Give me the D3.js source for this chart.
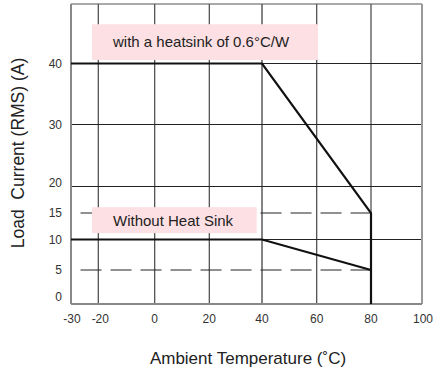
<!DOCTYPE html>
<html>
<head>
<meta charset="utf-8">
<script src="https://cdn.jsdelivr.net/npm/d3@7"></script>
<style>
  body { margin: 0; background: #fff; }
  text { font-family: "Liberation Sans", Arial, sans-serif; fill: #222; }
  .tick-label { font-size: 12px; fill: #333; }
</style>
</head>
<body>
<div id="chart"></div>
<script>
const width = 433;
const height = 370;

// axis ticks (the value axis is drawn piecewise, as in the original sheet)
const xTicks = [-30, -20, 0, 20, 40, 60, 80, 100];
const xGridValues = [-20, 0, 20, 40, 60, 80];
const yTicks = [0, 5, 10, 15, 20, 30, 40];
const yGridValues = [10, 20, 30, 40];
const dashedLevels = [5, 15];

// derating curves: [ambient °C, current A]
const heatsinkCurve = [[-30, 40], [40, 40], [80, 15], [80, 0]];
const noSinkCurve = [[-30, 10], [40, 10], [80, 5]];

const labelTexts = ["with a heatsink of 0.6°C/W", "Without Heat Sink"];

const svg = d3
  .select("#chart")
  .append("svg")
  .attr("width", width)
  .attr("height", height);

const x = d3
  .scaleLinear()
  .domain([-30, -20, 0, 20, 40, 60, 80, 100])
  .range([71, 98.3, 154.7, 209.3, 262, 316.7, 371, 422]);
const y = d3
  .scaleLinear()
  .domain([0, 5, 10, 15, 20, 30, 40, 50])
  .range([304, 270, 239.5, 213, 186.5, 124.5, 63.5, 4]);

const x0 = x(-30), x1 = x(100), yTop = y(50), yBot = y(0);

// vertical grid
svg
  .selectAll("line.vgrid")
  .data(xGridValues)
  .join("line")
  .attr("class", "vgrid")
  .attr("x1", (d) => x(d))
  .attr("x2", (d) => x(d))
  .attr("y1", yTop)
  .attr("y2", yBot)
  .attr("stroke", (d) => (d === 40 ? "#777" : "#444"))
  .attr("stroke-width", (d) => (d === 40 ? 1.8 : 1.2));

// horizontal grid
svg
  .selectAll("line.hgrid")
  .data(yGridValues)
  .join("line")
  .attr("class", "hgrid")
  .attr("x1", x0)
  .attr("x2", x1)
  .attr("y1", (d) => y(d))
  .attr("y2", (d) => y(d))
  .attr("stroke", "#222")
  .attr("stroke-width", 1.1);

// dashed guide lines
svg
  .selectAll("line.dash")
  .data(dashedLevels)
  .join("line")
  .attr("class", "dash")
  .attr("x1", x(-26.5))
  .attr("x2", x(80))
  .attr("y1", (d) => y(d))
  .attr("y2", (d) => y(d))
  .attr("stroke", "#222")
  .attr("stroke-width", 1)
  .attr("stroke-dasharray", "21,9");

// frame
svg.append("line").attr("x1", x0).attr("x2", x1).attr("y1", yTop).attr("y2", yTop)
  .attr("stroke", "#555").attr("stroke-width", 1.2);
svg.append("line").attr("x1", x1).attr("x2", x1).attr("y1", yTop).attr("y2", yBot)
  .attr("stroke", "#999").attr("stroke-width", 2);
svg.append("line").attr("x1", x0).attr("x2", x0).attr("y1", yTop).attr("y2", yBot)
  .attr("stroke", "#888").attr("stroke-width", 2);
svg.append("line").attr("x1", x0).attr("x2", x1).attr("y1", yBot).attr("y2", yBot)
  .attr("stroke", "#888").attr("stroke-width", 2);

// pink annotation boxes
const boxes = [
  { x: [-22.3, 60.5], y: [46.6, 40.6], text: labelTexts[0] },
  { x: [-22.3, 38], y: [16.1, 11.2], text: labelTexts[1] },
];
svg
  .selectAll("rect.note")
  .data(boxes)
  .join("rect")
  .attr("class", "note")
  .attr("x", (d) => x(d.x[0]))
  .attr("y", (d) => y(d.y[0]))
  .attr("width", (d) => x(d.x[1]) - x(d.x[0]))
  .attr("height", (d) => y(d.y[1]) - y(d.y[0]))
  .attr("fill", "#fde0e3");
svg
  .selectAll("text.note")
  .data(boxes)
  .join("text")
  .attr("class", "note")
  .attr("x", (d) => x(d.x[0]) + 21)
  .attr("y", (d) => (y(d.y[0]) + y(d.y[1])) / 2)
  .attr("dy", "0.36em")
  .attr("font-size", 15)
  .text((d) => d.text);

// curves
const line = d3.line().x((d) => x(d[0])).y((d) => y(d[1]));
[heatsinkCurve, noSinkCurve].forEach((c) => {
  svg
    .append("path")
    .attr("d", line(c))
    .attr("fill", "none")
    .attr("stroke", "#111")
    .attr("stroke-width", 2.2)
    .attr("stroke-linejoin", "miter");
});

// tick labels
const yNudge = { 0: -7, 20: -4 };
svg
  .selectAll("text.ytick")
  .data(yTicks)
  .join("text")
  .attr("class", "tick-label ytick")
  .attr("x", 62)
  .attr("y", (d) => y(d) + (yNudge[d] || 0))
  .attr("dy", "0.35em")
  .attr("text-anchor", "end")
  .text((d) => d);

const xNudge = { "-30": 1, "-20": 2, 100: 1 };
svg
  .selectAll("text.xtick")
  .data(xTicks)
  .join("text")
  .attr("class", "tick-label xtick")
  .attr("x", (d) => x(d) + (xNudge[d] || 0))
  .attr("y", 319)
  .attr("dy", "0.35em")
  .attr("text-anchor", "middle")
  .text((d) => d);

// axis titles
svg
  .append("text")
  .attr("x", 248)
  .attr("y", 364)
  .attr("text-anchor", "middle")
  .attr("font-size", 17)
  .text("Ambient Temperature (˚C)");

svg
  .append("text")
  .attr("transform", "translate(24,153) rotate(-90)")
  .attr("text-anchor", "middle")
  .attr("font-size", 17.5)
  .attr("xml:space", "preserve")
  .style("white-space", "pre")
  .text("Load  Current (RMS) (A)");
</script>
</body>
</html>
